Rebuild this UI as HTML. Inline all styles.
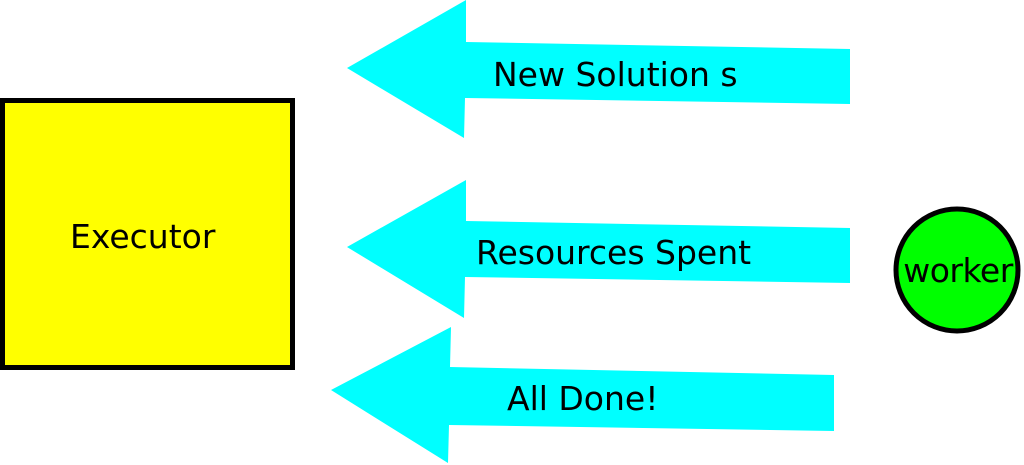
<!DOCTYPE html>
<html><head><meta charset="utf-8"><style>
html,body{margin:0;padding:0;background:#fff;width:1024px;height:465px;overflow:hidden}
svg{display:block}
text{font-family:"DejaVu Sans","Liberation Sans",sans-serif;fill:#000}
</style></head><body>
<svg width="1024" height="465" viewBox="0 0 1024 465" xmlns="http://www.w3.org/2000/svg">
<rect x="2.5" y="100.5" width="290" height="267" fill="#ffff00" stroke="#000" stroke-width="5"/>
<text x="70" y="248" font-size="33">Executor</text>
<polygon points="347,68 466,0 466,42 850,49 850,104 465,98 464,138" fill="#00ffff"/>
<polygon points="347,247 466,180 466,221 850,228 850,283 465,277 464,318" fill="#00ffff"/>
<polygon points="331,390 451,327 450,367 834,375 834,431 449,425 448,463" fill="#00ffff"/>
<text x="493" y="86" font-size="33">New Solution s</text>
<text x="476" y="264" font-size="33">Resources Spent</text>
<text x="507" y="410" font-size="33">All Done!</text>
<circle cx="957" cy="270" r="61" fill="#00ff00" stroke="#000" stroke-width="5"/>
<text x="958" y="282" font-size="33" text-anchor="middle" letter-spacing="-0.5">worker</text>
</svg>
</body></html>
